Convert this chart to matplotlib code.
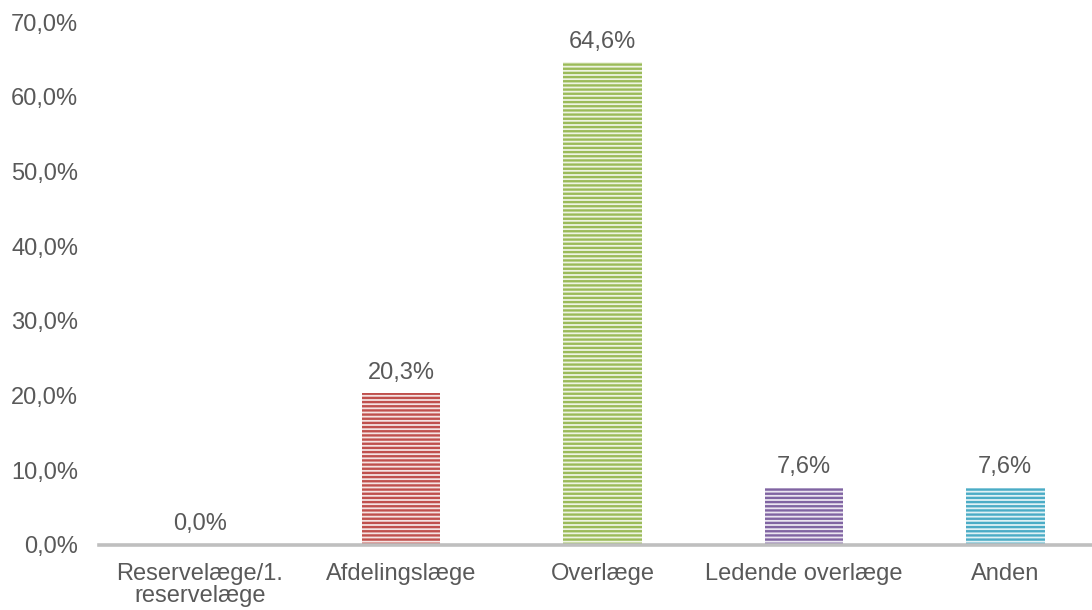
import matplotlib
matplotlib.use("Agg")
import matplotlib.pyplot as plt

categories = ["Reservelæge/1.\nreservelæge", "Afdelingslæge", "Overlæge",
              "Ledende overlæge", "Anden"]
values = [0.0, 20.3, 64.6, 7.6, 7.6]
stripe_colors = ["#C0504D", "#C0504D", "#9BBB59", "#8064A2", "#4BACC6"]
face_colors = ["#F5E3E2", "#F5E3E2", "#EEF4E2", "#EAE5F0", "#E0F1F5"]
yticks = [0, 10, 20, 30, 40, 50, 60, 70]

plt.rcParams["font.family"] = ["Liberation Sans", "DejaVu Sans"]
plt.rcParams["hatch.linewidth"] = 1.7

text_color = "#595959"
fs = 17

fig = plt.figure(figsize=(10.92, 6.10), dpi=100)
ax = fig.add_axes([99 / 1092, 65 / 610, 1007 / 1092, 523 / 610])

x = range(len(categories))
bars = ax.bar(x, values, width=0.39, color=face_colors,
              edgecolor=stripe_colors, linewidth=0, hatch="----")

for xi, v in zip(x, values):
    ax.annotate(f"{v:.1f}%".replace(".", ","), (xi, v),
                xytext=(0, 7), textcoords="offset points",
                ha="center", va="bottom", fontsize=fs, color=text_color)

ax.set_xlim(-0.5, 4.5)
ax.set_ylim(0, 70)
ax.set_yticks(yticks)
ax.set_yticklabels([f"{t:.1f}%".replace(".", ",") for t in yticks])
ax.set_xticks(list(x))
ax.set_xticklabels(categories, linespacing=1.0)

ax.tick_params(axis="y", length=0, pad=15, labelsize=fs, labelcolor=text_color)
ax.tick_params(axis="x", length=0, pad=13, labelsize=fs, labelcolor=text_color)

for side in ["top", "right", "left"]:
    ax.spines[side].set_visible(False)
ax.spines["bottom"].set_color("#BFBFBF")
ax.spines["bottom"].set_linewidth(2.6)

fig.savefig("out.png", dpi=100)
